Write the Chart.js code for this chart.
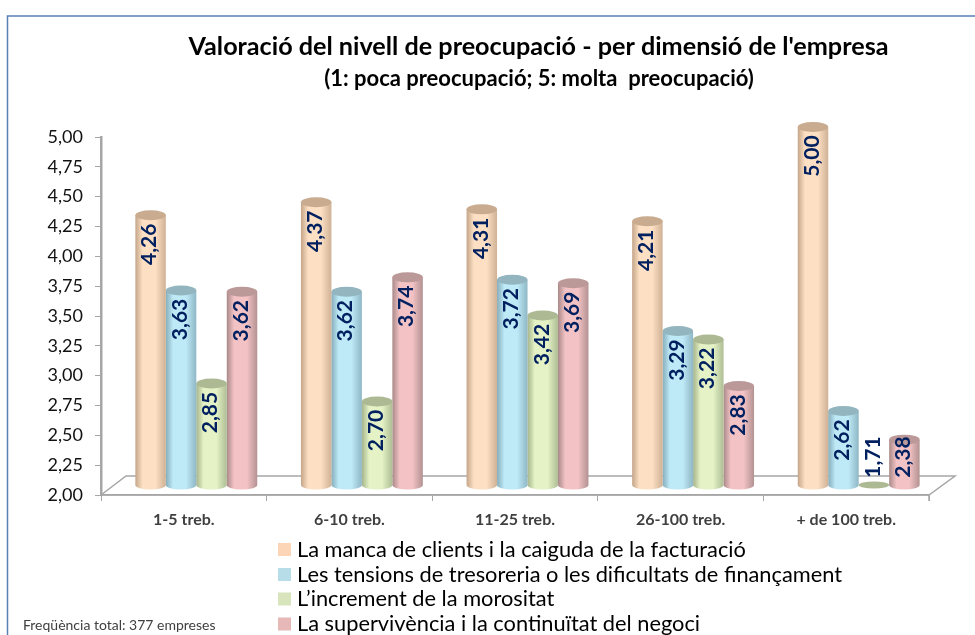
<!DOCTYPE html>
<html><head><meta charset="utf-8">
<style>html,body{margin:0;padding:0;background:#fff}canvas{display:block}</style>
<script src="https://cdn.jsdelivr.net/npm/chart.js@4"></script>
</head><body><canvas id="c" width="975" height="635"></canvas>
<script>
const categories = ['1-5 treb.','6-10 treb.','11-25 treb.','26-100 treb.','+ de 100 treb.'];
const seriesNames = ['La manca de clients i la caiguda de la facturació','Les tensions de tresoreria o les dificultats de finançament','L’increment de la morositat','La supervivència i la continuïtat del negoci'];
const clients = [4.26,4.37,4.31,4.21,5.00];
const tensions = [3.63,3.62,3.72,3.29,2.62];
const morositat = [2.85,2.70,3.42,3.22,1.71];
const supervivencia = [3.62,3.74,3.69,2.83,2.38];
const titleText = "Valoració del nivell de preocupació - per dimensió de l'empresa";
const subtitleText = '(1: poca preocupació; 5: molta  preocupació)';
const noteText = 'Freqüència total: 377 empreses';
const FONT = 'Lato, Carlito, sans-serif';
const DX = 12.5, DY = -10, RY = 5;
const palette = [
 {edgeL:'#c4a589',mid:'#fde0c3',edgeR:'#cfb196',cap:'#c9ab90',legend:'#fbd5b5'},
 {edgeL:'#86adbb',mid:'#bee9f6',edgeR:'#8fb7c5',cap:'#93b5bf',legend:'#b7dde8'},
 {edgeL:'#a5b48b',mid:'#e4f2c5',edgeR:'#aebd94',cap:'#acb993',legend:'#d7e4bc'},
 {edgeL:'#a98989',mid:'#f3c2c4',edgeR:'#b39292',cap:'#bc9999',legend:'#e6b9b8'}
];
const fmt = v => v.toFixed(2).replace('.', ',');
const bodyGrad = (ctx,x0,x1,p) => {
  const g = ctx.createLinearGradient(x0,0,x1,0);
  g.addColorStop(0,p.edgeL); g.addColorStop(.24,p.mid); g.addColorStop(.66,p.mid); g.addColorStop(1,p.edgeR);
  return g;
};
const cyl = {
  id:'cyl',
  beforeDatasetsDraw(chart){
    const {ctx,chartArea:a} = chart;
    ctx.save();
    ctx.strokeStyle='#a6a6a6'; ctx.lineWidth=1.5;
    ctx.beginPath();
    ctx.moveTo(a.left,a.bottom); ctx.lineTo(a.left+25,a.bottom-19); ctx.lineTo(a.right+26,a.bottom-19);
    ctx.lineTo(a.right,a.bottom); ctx.lineTo(a.left,a.bottom);
    ctx.moveTo(a.right,a.bottom); ctx.lineTo(a.right,a.bottom+6);
    ctx.stroke();
    ctx.restore();
  },
  beforeDatasetDraw(chart,args){
    const {ctx,scales:{y}} = chart; const p = palette[args.index];
    const base = y.getPixelForValue(y.min);
    ctx.save(); ctx.translate(DX,DY);
    args.meta.data.forEach(b=>{
      const g = bodyGrad(ctx,b.x-b.width/2,b.x+b.width/2,p);
      b.options = Object.assign({},b.options,{backgroundColor:g,borderWidth:0});
      if (y.getValueForPixel(b.y) >= y.min){
        ctx.fillStyle=g; ctx.beginPath();
        ctx.ellipse(b.x,base,b.width/2,4.5,0,0,Math.PI*2); ctx.fill();
      }
    });
  },
  afterDatasetDraw(chart,args){
    const {ctx,scales:{y}} = chart; const p = palette[args.index];
    const base = y.getPixelForValue(y.min);
    args.meta.data.forEach(b=>{
      const under = b.y>base;
      ctx.fillStyle=p.cap; ctx.beginPath();
      ctx.ellipse(b.x,under?base:b.y,b.width/2,under?3.5:RY,0,0,Math.PI*2); ctx.fill();
    });
    ctx.restore();
  },
  afterDatasetsDraw(chart){
    const {ctx,scales:{y}} = chart;
    const base = y.getPixelForValue(y.min)+DY;
    chart.data.datasets.forEach((ds,di)=>{
      chart.getDatasetMeta(di).data.forEach((b,i)=>{
        const top=b.y+DY, cy=Math.min(top+29,base-28);
        ctx.save(); ctx.translate(b.x+DX-1,cy); ctx.rotate(-Math.PI/2);
        ctx.fillStyle='#002060'; ctx.font='bold 21px '+FONT;
        ctx.textAlign='center'; ctx.textBaseline='middle';
        ctx.fillText(fmt(ds.data[i]),0,0); ctx.restore();
      });
    });
    ctx.save();
    ctx.strokeStyle='#5a80b5'; ctx.lineWidth=1.5;
    ctx.beginPath(); ctx.moveTo(7.5,635); ctx.lineTo(7.5,16); ctx.lineTo(975,16); ctx.stroke();
    ctx.fillStyle='#000'; ctx.textAlign='center'; ctx.textBaseline='middle';
    ctx.font='bold 25.2px '+FONT; ctx.fillText(titleText,538.5,47);
    ctx.font='bold 22px '+FONT; ctx.fillText(subtitleText,539,79);
    ctx.textAlign='left';
    ctx.fillStyle='#404040'; ctx.font='14px '+FONT; ctx.fillText(noteText,23,625.5);
    const ys=[549.5,574.5,599,624];
    seriesNames.forEach((n,i)=>{
      ctx.fillStyle=palette[i].legend; ctx.fillRect(278,ys[i]-6.5,13,13);
      ctx.fillStyle='#000'; ctx.font='21.8px '+FONT; ctx.fillText(n,297,ys[i]);
    });
    ctx.restore();
  }
};
new Chart(document.getElementById('c'),{
  type:'bar',
  data:{labels:categories,datasets:[clients,tensions,morositat,supervivencia].map((d,i)=>({label:seriesNames[i],data:d,backgroundColor:palette[i].legend}))},
  options:{
    responsive:false,animation:false,
    layout:{autoPadding:false,padding:{left:0,top:137,right:46,bottom:0}},
    plugins:{legend:{display:false},title:{display:false},tooltip:{enabled:false}},
    datasets:{bar:{categoryPercentage:.736,barPercentage:1,base:2}},
    scales:{
      x:{grid:{drawOnChartArea:false,drawTicks:true,tickLength:6,color:'#a6a6a6'},border:{color:'#a6a6a6',width:1.5},
         ticks:{color:'#404040',padding:9,maxRotation:0,font:{family:FONT,weight:'bold',size:16}},
         afterFit(s){s.height=140;}},
      y:{min:2,max:5,grid:{drawOnChartArea:false,drawTicks:true,tickLength:6,color:'#a6a6a6'},border:{color:'#a6a6a6',width:2.5},
         ticks:{stepSize:.25,color:'#111',padding:12,font:{family:FONT,size:18},callback:v=>fmt(v)},
         afterFit(s){s.width=101;}}
    }
  },
  plugins:[cyl]
});
</script></body></html>
